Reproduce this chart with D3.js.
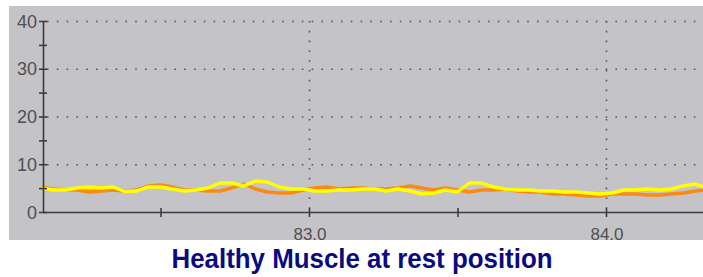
<!DOCTYPE html>
<html><head><meta charset="utf-8">
<script src="https://cdn.jsdelivr.net/npm/d3@7"></script>
<style>html,body{margin:0;padding:0;background:#fff;overflow:hidden}</style>
</head><body>
<script>
const times = [82.10,82.14,82.18,82.22,82.26,82.30,82.34,82.38,82.42,82.46,82.50,82.54,82.58,82.62,82.66,82.70,82.74,82.78,82.82,82.86,82.90,82.94,82.98,83.02,83.06,83.10,83.14,83.18,83.22,83.26,83.30,83.34,83.38,83.42,83.46,83.50,83.54,83.58,83.62,83.66,83.70,83.74,83.78,83.82,83.86,83.90,83.94,83.98,84.02,84.06,84.10,84.14,84.18,84.22,84.26,84.30,84.34];
const orangeValues = [5.24,4.82,4.61,4.61,4.19,4.40,4.61,4.40,4.61,5.45,5.65,5.24,4.61,4.61,4.40,4.40,5.03,5.86,4.82,4.19,3.98,3.98,4.61,5.03,5.24,4.82,5.03,5.03,4.82,4.82,5.03,5.45,5.03,4.61,5.03,4.61,4.19,4.61,4.61,4.82,4.40,4.19,4.19,3.77,3.77,3.56,3.35,3.35,3.77,3.77,3.77,3.56,3.56,3.77,3.98,4.40,4.61];
const yellowValues = [5.03,4.61,4.61,5.03,5.24,5.03,5.24,4.29,4.40,5.24,5.24,4.82,4.40,4.61,5.03,6.07,6.07,5.45,6.49,6.28,5.24,4.82,4.82,4.40,4.40,4.61,4.61,4.82,4.82,4.40,4.82,4.40,3.77,3.98,4.61,4.19,6.07,6.07,5.24,4.82,4.61,4.61,4.40,4.40,4.19,4.19,3.98,3.77,3.98,4.61,4.61,4.82,4.61,4.82,5.45,5.86,5.03];
const yMajorTicks = [0,10,20,30,40];
const yMinorTicks = [5,15,25,35];
const xMajorTicks = [83.0,84.0];
const xMinorTicks = [82.5,83.5];
const xTickLabels = ["83.0","84.0"];
const title = "Healthy Muscle at rest position";

const W = 703, H = 277;
const svg = d3.select("body").append("svg").attr("width", W).attr("height", H);

const panel = {x:9, y:6, w:694, h:234};
svg.append("rect").attr("x",panel.x).attr("y",panel.y).attr("width",panel.w).attr("height",panel.h).attr("fill","#c4c3c8");
svg.append("defs").append("clipPath").attr("id","pc").append("rect")
  .attr("x",panel.x).attr("y",panel.y).attr("width",panel.w).attr("height",panel.h);
const g = svg.append("g").attr("clip-path","url(#pc)");

const x = d3.scaleLinear().domain([83.0,84.0]).range([309,606]);
const y = d3.scaleLinear().domain([0,40]).range([212,21]);
const x0 = 43, xEnd = 703;

// dotted grid
g.selectAll(".hg").data(yMajorTicks.filter(d=>d>0)).join("line")
  .attr("x1",x0+4).attr("x2",xEnd).attr("y1",d=>y(d)+0.5).attr("y2",d=>y(d)+0.5)
  .attr("stroke","#555").attr("stroke-width",1.6).attr("stroke-dasharray","1.6,8.2");
g.selectAll(".vg").data(xMajorTicks).join("line")
  .attr("x1",d=>x(d)+0.5).attr("x2",d=>x(d)+0.5).attr("y1",y(40)).attr("y2",y(0)-4)
  .attr("stroke","#555").attr("stroke-width",1.6).attr("stroke-dasharray","1.6,8.2");

// lines
const line = (vals) => d3.line().x((d,i)=>x(times[i])).y(d=>y(d)).curve(d3.curveLinear)(vals);
g.append("path").attr("d",line(orangeValues)).attr("fill","none").attr("stroke","#fb8a12").attr("stroke-width",3.4).attr("stroke-linejoin","round");
g.append("path").attr("d",line(yellowValues)).attr("fill","none").attr("stroke","#ffff00").attr("stroke-width",3.4).attr("stroke-linejoin","round");

// axes
const axisCol = "#3c3c3c";
g.append("line").attr("x1",x0+0.5).attr("x2",x0+0.5).attr("y1",y(40)).attr("y2",y(0)).attr("stroke",axisCol).attr("stroke-width",1.6);
g.append("line").attr("x1",x0).attr("x2",xEnd).attr("y1",y(0)+0.5).attr("y2",y(0)+0.5).attr("stroke",axisCol).attr("stroke-width",1.6);
g.selectAll(".yt").data(yMajorTicks.concat(yMinorTicks)).join("line")
  .attr("x1",x0-4).attr("x2",x0+4).attr("y1",d=>y(d)+0.5).attr("y2",d=>y(d)+0.5)
  .attr("stroke",axisCol).attr("stroke-width",1.6);
g.selectAll(".xt").data(xMajorTicks.concat(xMinorTicks)).join("line")
  .attr("x1",d=>x(d)+0.5).attr("x2",d=>x(d)+0.5).attr("y1",y(0)-4).attr("y2",y(0)+5)
  .attr("stroke",axisCol).attr("stroke-width",1.6);

g.selectAll(".yl").data(yMajorTicks).join("text")
  .attr("x",37).attr("y",d=>y(d)+6.5).attr("text-anchor","end")
  .attr("font-family","Liberation Sans, Arial, sans-serif").attr("font-size",18).attr("fill","#505050")
  .text(d=>d);
g.selectAll(".xl").data(xMajorTicks).join("text")
  .attr("x",d=>x(d)+1).attr("y",239.5).attr("text-anchor","middle")
  .attr("font-family","Liberation Sans, Arial, sans-serif").attr("font-size",17).attr("fill","#505050")
  .text((d,i)=>xTickLabels[i]);

svg.append("text").attr("x",362).attr("y",268).attr("text-anchor","middle")
  .attr("font-family","Liberation Sans Narrow, Arial Narrow, Liberation Sans, Arial, sans-serif")
  .attr("font-weight","bold").attr("font-size",27).attr("fill","#0a0a80")
  .attr("textLength",381).attr("lengthAdjust","spacingAndGlyphs")
  .text(title);
</script>
</body></html>
